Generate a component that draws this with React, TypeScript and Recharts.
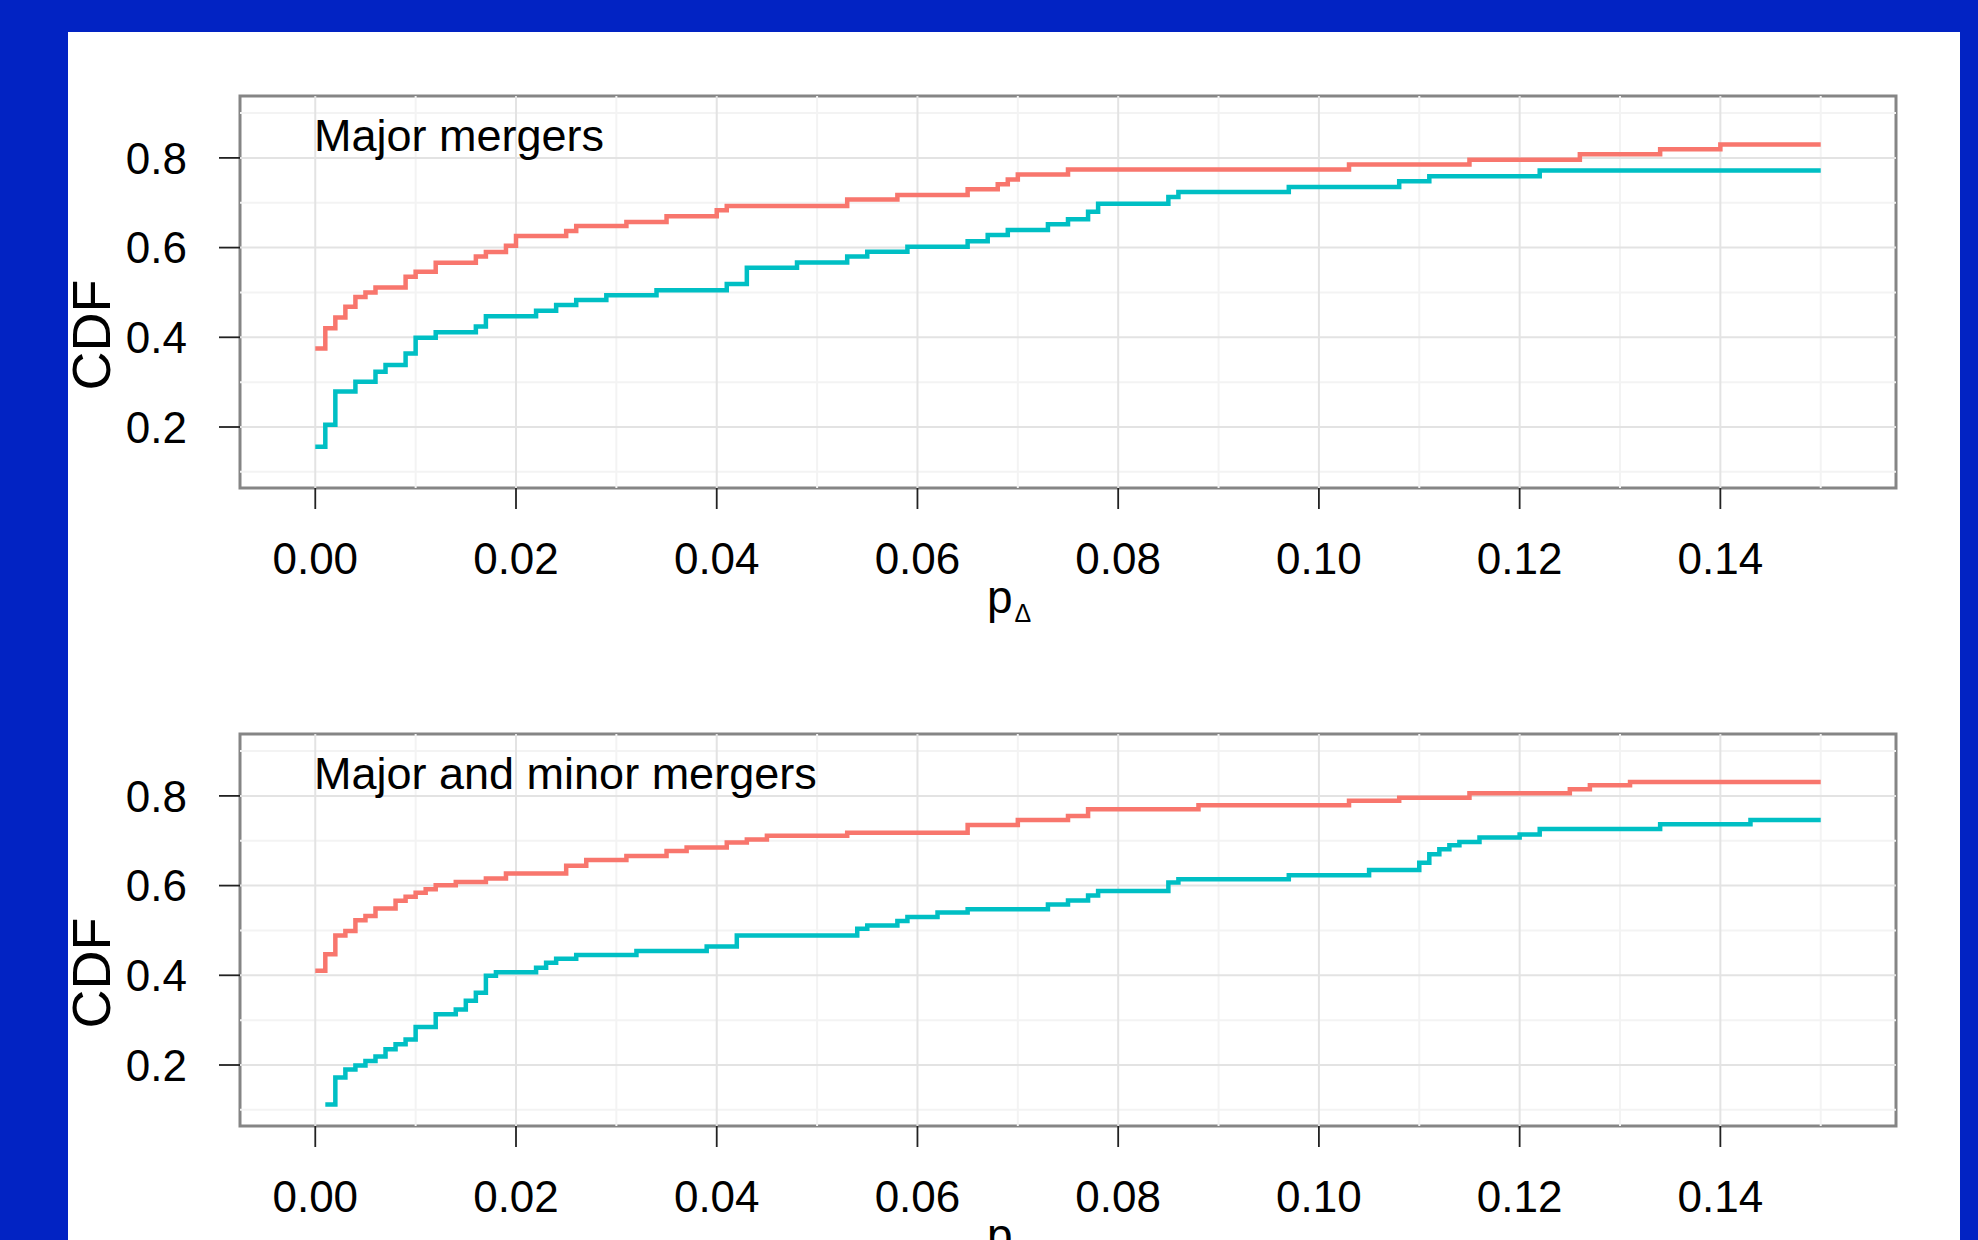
import React from 'react';
import { LineChart, Line, XAxis, YAxis, ReferenceLine, ReferenceArea } from 'recharts';

const FONT = '"Liberation Sans", Arial, Helvetica, sans-serif';
const RED = '#F8766D';
const CYAN = '#00BFC4';
const BLUE = '#0223c3';

// Axis ticks and grid values
const xTicks = [0, 0.02, 0.04, 0.06, 0.08, 0.1, 0.12, 0.14];
const xMinor = [0.01, 0.03, 0.05, 0.07, 0.09, 0.11, 0.13, 0.15];
const yTicks = [0.2, 0.4, 0.6, 0.8];
const yMinor = [0.1, 0.3, 0.5, 0.7, 0.9];
const xDomain: [number, number] = [-0.0075, 0.1575];
const yDomain: [number, number] = [0.064, 0.938];

const panelTitles = ['Major mergers', 'Major and minor mergers'];
const yLabel = 'CDF';

// Panel 1: Major mergers
const majorRedX = [0, 0.001, 0.002, 0.003, 0.004, 0.005, 0.006, 0.009, 0.010, 0.012, 0.016, 0.017, 0.019, 0.020, 0.025, 0.026, 0.031, 0.035, 0.040, 0.041, 0.053, 0.058, 0.065, 0.068, 0.069, 0.070, 0.075, 0.103, 0.115, 0.126, 0.134, 0.140, 0.150];
const majorRedY = [0.375, 0.42, 0.444, 0.468, 0.49, 0.50, 0.511, 0.535, 0.546, 0.566, 0.58, 0.59, 0.604, 0.626, 0.637, 0.648, 0.657, 0.67, 0.683, 0.693, 0.707, 0.717, 0.73, 0.741, 0.752, 0.763, 0.774, 0.785, 0.796, 0.808, 0.819, 0.83, 0.83];

const majorCyanX = [0, 0.001, 0.002, 0.004, 0.006, 0.007, 0.009, 0.010, 0.012, 0.016, 0.017, 0.022, 0.024, 0.026, 0.029, 0.034, 0.041, 0.043, 0.048, 0.053, 0.055, 0.059, 0.065, 0.067, 0.069, 0.073, 0.075, 0.077, 0.078, 0.085, 0.086, 0.097, 0.108, 0.111, 0.122, 0.150];
const majorCyanY = [0.156, 0.205, 0.279, 0.301, 0.323, 0.338, 0.364, 0.399, 0.411, 0.424, 0.447, 0.459, 0.472, 0.483, 0.494, 0.505, 0.519, 0.555, 0.567, 0.58, 0.591, 0.602, 0.614, 0.628, 0.639, 0.652, 0.663, 0.68, 0.698, 0.713, 0.724, 0.735, 0.748, 0.759, 0.772, 0.772];

// Panel 2: Major and minor mergers
const allRedX = [0, 0.001, 0.002, 0.003, 0.004, 0.005, 0.006, 0.008, 0.009, 0.010, 0.011, 0.012, 0.014, 0.017, 0.019, 0.025, 0.027, 0.031, 0.035, 0.037, 0.041, 0.043, 0.045, 0.053, 0.065, 0.070, 0.075, 0.077, 0.088, 0.103, 0.108, 0.115, 0.125, 0.127, 0.131, 0.150];
const allRedY = [0.41, 0.447, 0.489, 0.499, 0.523, 0.532, 0.549, 0.566, 0.575, 0.584, 0.592, 0.601, 0.608, 0.616, 0.627, 0.644, 0.657, 0.666, 0.677, 0.685, 0.696, 0.703, 0.711, 0.718, 0.735, 0.746, 0.755, 0.77, 0.779, 0.789, 0.796, 0.806, 0.815, 0.824, 0.831, 0.831];

const allCyanX = [0.001, 0.002, 0.003, 0.004, 0.005, 0.006, 0.007, 0.008, 0.009, 0.010, 0.012, 0.014, 0.015, 0.016, 0.017, 0.018, 0.022, 0.023, 0.024, 0.026, 0.032, 0.039, 0.042, 0.054, 0.055, 0.058, 0.059, 0.062, 0.065, 0.073, 0.075, 0.077, 0.078, 0.085, 0.086, 0.097, 0.105, 0.110, 0.111, 0.112, 0.113, 0.114, 0.116, 0.120, 0.122, 0.134, 0.143, 0.150];
const allCyanY = [0.112, 0.172, 0.19, 0.199, 0.209, 0.219, 0.235, 0.246, 0.257, 0.285, 0.313, 0.324, 0.343, 0.361, 0.399, 0.407, 0.417, 0.428, 0.437, 0.445, 0.454, 0.464, 0.489, 0.504, 0.511, 0.521, 0.53, 0.54, 0.547, 0.558, 0.567, 0.578, 0.588, 0.607, 0.614, 0.623, 0.635, 0.651, 0.67, 0.681, 0.69, 0.697, 0.707, 0.714, 0.726, 0.737, 0.746, 0.746];

const toPoints = (xs: number[], ys: number[]) => xs.map((x, i) => ({ x, y: ys[i] }));

const tickStyle = { fill: '#000', fontSize: 44, fontFamily: FONT };
const tickLineStyle = { stroke: '#222', strokeWidth: 1.8 };

function Panel({ top, red, cyan }: { top: number; red: { x: number; y: number }[]; cyan: { x: number; y: number }[] }) {
  return (
    <div style={{ position: 'absolute', left: 0, top, width: 1978, height: 640 }}>
      <LineChart width={1978} height={640} margin={{ top: 96, right: 82, bottom: 0, left: 0 }}>
        <XAxis
          type="number"
          dataKey="x"
          domain={xDomain}
          ticks={xTicks}
          allowDataOverflow
          interval={0}
          axisLine={false}
          tickSize={21}
          tickMargin={34}
          height={152}
          tickFormatter={(v: number) => v.toFixed(2)}
          tick={tickStyle}
          tickLine={tickLineStyle}
        />
        <YAxis
          type="number"
          domain={yDomain}
          ticks={yTicks}
          allowDataOverflow
          interval={0}
          axisLine={false}
          tickSize={21}
          tickMargin={32}
          width={240}
          tickFormatter={(v: number) => v.toFixed(1)}
          tick={tickStyle}
          tickLine={tickLineStyle}
        />
        {xMinor.map((v) => (
          <ReferenceLine key={'xm' + v} x={v} stroke="#f3f3f3" strokeWidth={2} />
        ))}
        {yMinor.map((v) => (
          <ReferenceLine key={'ym' + v} y={v} stroke="#f3f3f3" strokeWidth={2} />
        ))}
        {xTicks.map((v) => (
          <ReferenceLine key={'xM' + v} x={v} stroke="#e3e3e3" strokeWidth={2} />
        ))}
        {yTicks.map((v) => (
          <ReferenceLine key={'yM' + v} y={v} stroke="#e3e3e3" strokeWidth={2} />
        ))}
        <Line data={red} dataKey="y" type="stepAfter" stroke={RED} strokeWidth={4.5} dot={false} activeDot={false} isAnimationActive={false} />
        <Line data={cyan} dataKey="y" type="stepAfter" stroke={CYAN} strokeWidth={4.5} dot={false} activeDot={false} isAnimationActive={false} />
        <ReferenceArea
          x1={xDomain[0]}
          x2={xDomain[1]}
          y1={yDomain[0]}
          y2={yDomain[1]}
          fill="none"
          fillOpacity={0}
          stroke="#858585"
          strokeWidth={3}
          ifOverflow="visible"
        />
      </LineChart>
    </div>
  );
}

export default function App() {
  const offset2 = 638;
  return (
    <div style={{ position: 'fixed', left: 0, top: 0, width: 1978, height: 1240, background: BLUE, overflow: 'hidden' }}>
      <div style={{ position: 'absolute', left: 68, top: 32, width: 1892, height: 1240, background: '#ffffff' }} />
      <Panel top={0} red={toPoints(majorRedX, majorRedY)} cyan={toPoints(majorCyanX, majorCyanY)} />
      <Panel top={offset2} red={toPoints(allRedX, allRedY)} cyan={toPoints(allCyanX, allCyanY)} />
      <svg width={1978} height={1240} style={{ position: 'absolute', left: 0, top: 0, pointerEvents: 'none' }} fontFamily={FONT}>
        {[0, offset2].map((dy, i) => (
          <g key={i}>
            <text x={314} y={150.7 + dy} fontSize={45} fill="#000">
              {panelTitles[i]}
            </text>
            <text transform={`translate(110, ${335 + dy}) rotate(-90)`} textAnchor="middle" fontSize={54} fill="#000">
              {yLabel}
            </text>
            <text x={987} y={613 + dy} fontSize={46} fill="#000">
              p
              <tspan dx={2} dy={9} fontSize={25}>
                Δ
              </tspan>
            </text>
          </g>
        ))}
      </svg>
    </div>
  );
}
